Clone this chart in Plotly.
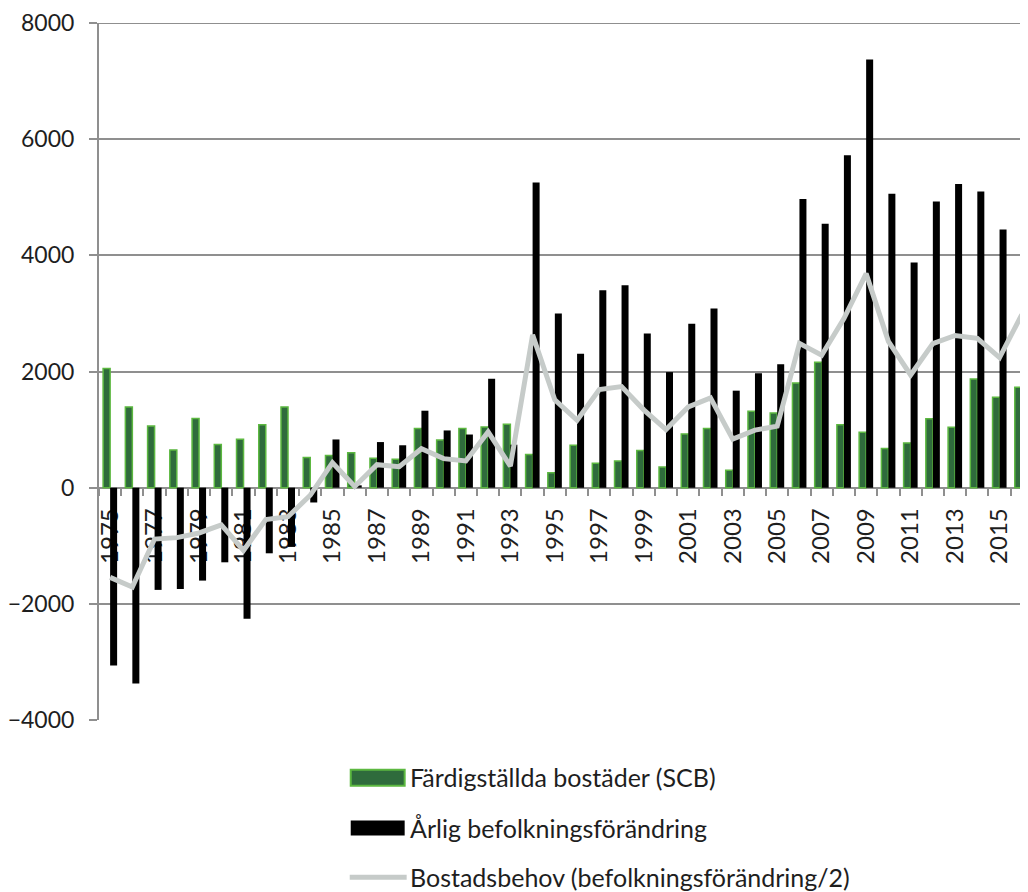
import plotly.graph_objects as go

years = list(range(1975, 2017))

completed = [2050, 1390, 1060, 650, 1190, 745, 835, 1085, 1390, 520,
             555, 600, 505, 490, 1020, 820, 1020, 1045, 1090, 570,
             255, 730, 420, 460, 640, 355, 925, 1020, 300, 1315,
             1285, 1800, 2160, 1085, 955, 675, 770, 1185, 1040, 1870,
             1555, 1730]

pop_change = [-3060, -3370, -1760, -1745, -1600, -1285, -2255, -1130, -1020, -255,
              830, 40, 785, 730, 1325, 985, 915, 1875, 740, 5255,
              3000, 2305, 3400, 3485, 2655, 1990, 2820, 3085, 1670, 1970,
              2125, 4970, 4545, 5725, 7370, 5060, 3875, 4925, 5230, 5100,
              4445, 5905]

housing_need = [-1545, -1710, -885, -860, -780, -640, -1080, -550, -500, -130,
                430, 20, 395, 360, 670, 500, 460, 960, 370, 2630,
                1510, 1160, 1690, 1740, 1340, 1000, 1390, 1545, 835, 990,
                1060, 2485, 2280, 2910, 3685, 2520, 1940, 2480, 2620, 2570,
                2240, 2980]

series_names = ["Färdigställda bostäder (SCB)",
                "Årlig befolkningsförändring",
                "Bostadsbehov (befolkningsförändring/2)"]

tick_years = list(range(1975, 2016, 2))
tick_text = [str(y) for y in tick_years]
y_ticks = [-4000, -2000, 0, 2000, 4000, 6000, 8000]

GREEN_FILL = "#2f6b3c"
GREEN_LINE = "#5cb840"
GRID = "#8f8f8f"
LINE_GRAY = "#c6cbc9"
FONT = "Lato"

OFF = 8  # page body margin
W, H = 1028 - OFF, 892 - OFF
ML, MR, MT, MB = 98 - OFF, 0, 20 - OFF, 172
PW = W - ML - MR
PH = H - MT - MB
CAT_W = 22.26

fig = go.Figure()
fig.add_trace(go.Bar(x=years, y=completed, name=series_names[0],
                     marker=dict(color=GREEN_FILL, line=dict(color=GREEN_LINE, width=1.5))))
fig.add_trace(go.Bar(x=years, y=pop_change, name=series_names[1],
                     marker=dict(color="#000000", line=dict(width=0))))
fig.add_trace(go.Scatter(x=years, y=housing_need, name=series_names[2], mode="lines",
                         line=dict(color=LINE_GRAY, width=5), cliponaxis=False))

x0 = 1974.5
x1 = x0 + PW / CAT_W

fig.update_layout(
    width=W, height=H,
    margin=dict(l=ML, r=MR, t=MT, b=MB, pad=0),
    paper_bgcolor="white", plot_bgcolor="white",
    barmode="group", bargap=0.37, bargroupgap=0,
    showlegend=False,
    font=dict(family=FONT, color="#1e1e1e"),
)

fig.update_xaxes(
    type="linear", range=[x0, x1],
    anchor="free", position=4000 / 12000,
    tickmode="array", tickvals=tick_years, ticktext=tick_text,
    tickangle=-90, ticks="", ticklabelstandoff=10,
    tickfont=dict(family=FONT, size=24, color="#1e1e1e"),
    showline=True, linecolor=GRID, linewidth=2,
    showgrid=False, zeroline=False,
    minor=dict(tick0=1974.5, dtick=1, ticks="outside", ticklen=7,
               tickwidth=2, tickcolor=GRID, showgrid=False),
    layer="below traces",
)

fig.update_yaxes(
    range=[-4000, 8000], tickmode="array", tickvals=y_ticks,
    ticks="outside", ticklen=8, tickwidth=2, tickcolor=GRID,
    ticklabelstandoff=10, ticklabeloverflow="allow",
    tickfont=dict(family=FONT, size=23, color="#1e1e1e"),
    showline=True, linecolor=GRID, linewidth=2,
    showgrid=True, gridcolor=GRID, gridwidth=2,
    zeroline=False,
)

# manual legend (viewport pixel -> paper conversion)
def px(xp):
    return (xp - OFF - ML) / PW

def py(yp):
    return (H - MB - (yp - OFF)) / PH

shapes = [
    dict(type="rect", xref="paper", yref="paper", x0=px(350), x1=px(404), y0=py(786), y1=py(770),
         fillcolor=GREEN_FILL, line=dict(color=GREEN_LINE, width=2)),
    dict(type="rect", xref="paper", yref="paper", x0=px(350), x1=px(404), y0=py(836), y1=py(821),
         fillcolor="#000000", line=dict(width=0)),
    dict(type="line", xref="paper", yref="paper", x0=px(349), x1=px(406), y0=py(878), y1=py(878),
         line=dict(color=LINE_GRAY, width=5)),
    # top gridline at the upper range edge
    dict(type="line", xref="paper", yref="y", x0=0, x1=1, y0=y_ticks[-1], y1=y_ticks[-1],
         line=dict(color=GRID, width=2), layer="below"),
]
annotations = []
for name, yp in zip(series_names, [777, 828, 878]):
    annotations.append(dict(text=name, xref="paper", yref="paper", x=px(407), y=py(yp),
                            xanchor="left", yanchor="middle", showarrow=False,
                            font=dict(family=FONT, size=25, color="#1e1e1e")))
fig.update_layout(shapes=shapes, annotations=annotations)

fig.write_html("out.html")
